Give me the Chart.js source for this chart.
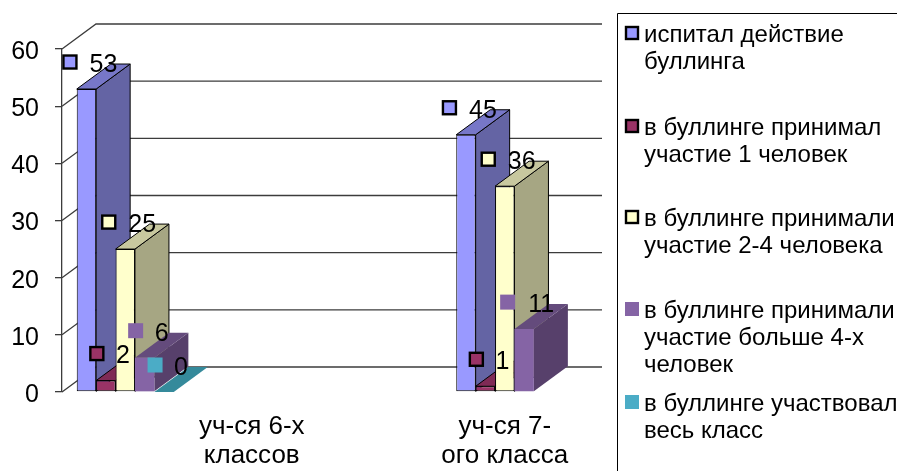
<!DOCTYPE html>
<html lang="ru">
<head>
<meta charset="utf-8">
<title>Буллинг</title>
<script src="https://cdn.jsdelivr.net/npm/chart.js@4"></script>
<style>html,body{margin:0;padding:0;background:#fff}canvas{display:block}</style>
</head>
<body>
<canvas id="c" width="897" height="471"></canvas>
<script>
const categories = ['', ['уч-ся 6-х', 'классов'], '', ['уч-ся 7-', 'ого класса']];
const seriesNames = [
  ['испитал действие', 'буллинга'],
  ['в буллинге принимал', 'участие 1 человек'],
  ['в буллинге принимали', 'участие 2-4 человека'],
  ['в буллинге принимали', 'участие больше 4-х', 'человек'],
  ['в буллинге участвовал', 'весь класс']
];
const испитал = [53, null, null, 45];
const один = [2, null, null, 1];
const дваЧетыре = [25, null, null, 36];
const большеЧетырех = [6, null, null, 11];
const весьКласс = [0, null, null, null];
const seriesValues = [испитал, один, дваЧетыре, большеЧетырех, весьКласс];
const yTicks = [0, 10, 20, 30, 40, 50, 60];

const frontColors = ['#9999FF', '#993366', '#FFFFCC', '#8564A5', '#4BACC6'];
const sideColors = ['#6464A4', '#732650', '#A6A683', '#57406B', '#358A9B'];
const topColors = ['#7777C8', '#7F2A55', '#C8C89F', '#644B7C', '#358A9B'];
const outlined = [true, true, true, false, false];
const legendY = [35, 128, 219, 311, 404];

const DX = 34, DY = 25;
const FAMILY = '"Liberation Sans", Arial, sans-serif';
const FONT = '25px ' + FAMILY;
const LEGEND_FONT = '24px ' + FAMILY;
const GRID = '#3c3c3c';

function marker(ctx, cx, cy, i, size) {
  ctx.save();
  ctx.fillStyle = frontColors[i];
  if (outlined[i]) {
    ctx.fillRect(cx - size / 2, cy - size / 2, size, size);
    ctx.strokeStyle = '#000';
    ctx.lineWidth = 2.4;
    ctx.strokeRect(cx - size / 2, cy - size / 2, size, size);
  } else {
    ctx.fillRect(cx - size / 2 - 1, cy - size / 2 - 1, size + 2, size + 2);
  }
  ctx.restore();
}

const wallPlugin = {
  id: 'wall',
  beforeDatasetsDraw(chart) {
    const { ctx, chartArea: a, scales: { y } } = chart;
    ctx.save();
    ctx.strokeStyle = GRID;
    ctx.lineWidth = 1.3;
    yTicks.forEach(v => {
      const p = y.getPixelForValue(v);
      ctx.beginPath();
      ctx.moveTo(a.left, p);
      ctx.lineTo(a.left + DX, p - DY);
      ctx.lineTo(a.right + DX, p - DY);
      ctx.stroke();
    });
    ctx.restore();
  }
};

// Paints the datasets left to right, each bar's side and top first, then the library's own front face.
const depthPlugin = {
  id: 'depth',
  beforeDatasetsDraw(chart) {
    const { ctx } = chart;
    seriesValues.forEach((vals, i) => {
      const meta = chart.getDatasetMeta(i);
      meta.data.forEach((el, k) => {
        if (vals[k] === null) return;
        const { x, y, base, width } = el.getProps(['x', 'y', 'base', 'width'], true);
        const l = x - width / 2, r = x + width / 2;
        ctx.save();
        ctx.lineWidth = 1;
        ctx.strokeStyle = '#000';
        ctx.fillStyle = sideColors[i];
        ctx.beginPath();
        ctx.moveTo(r, y); ctx.lineTo(r + DX, y - DY); ctx.lineTo(r + DX, base - DY); ctx.lineTo(r, base);
        ctx.closePath(); ctx.fill();
        if (outlined[i]) ctx.stroke();
        ctx.fillStyle = topColors[i];
        ctx.beginPath();
        ctx.moveTo(l, y); ctx.lineTo(r, y); ctx.lineTo(r + DX, y - DY); ctx.lineTo(l + DX, y - DY);
        ctx.closePath(); ctx.fill();
        if (outlined[i]) ctx.stroke();
        ctx.restore();
      });
      meta.controller.draw();
    });
    return false;
  }
};

const labelPlugin = {
  id: 'keys',
  afterDraw(chart) {
    const { ctx } = chart;
    ctx.save();
    ctx.font = FONT;
    ctx.textBaseline = 'middle';
    ctx.textAlign = 'center';
    seriesValues.forEach((vals, i) => {
      const meta = chart.getDatasetMeta(i);
      vals.forEach((v, k) => {
        if (v === null) return;
        const { x, y } = meta.data[k].getProps(['x', 'y'], true);
        const two = String(v).length > 1;
        marker(ctx, x + (two ? -16.5 : -9), y - 27, i, 13);
        ctx.fillStyle = '#000';
        ctx.fillText(String(v), x + 17, y - 24);
      });
    });
    ctx.restore();
  }
};

const legendPlugin = {
  id: 'sideLegend',
  afterDraw(chart) {
    const { ctx, width, height } = chart;
    ctx.save();
    ctx.strokeStyle = '#000';
    ctx.lineWidth = 1;
    ctx.beginPath();
    ctx.moveTo(617.5, height); ctx.lineTo(617.5, 13.5); ctx.lineTo(width, 13.5);
    ctx.stroke();
    ctx.font = LEGEND_FONT;
    ctx.textBaseline = 'middle';
    ctx.textAlign = 'left';
    seriesNames.forEach((lines, i) => {
      marker(ctx, 632, legendY[i] - 2, i, 12);
      ctx.fillStyle = '#000';
      lines.forEach((t, n) => ctx.fillText(t, 644, legendY[i] + n * 27.3));
    });
    ctx.restore();
  }
};

new Chart(document.getElementById('c'), {
  type: 'bar',
  data: {
    labels: categories,
    datasets: seriesValues.map((data, i) => ({
      label: seriesNames[i].join(' '),
      data,
      backgroundColor: frontColors[i],
      borderColor: '#000',
      borderWidth: outlined[i] ? 1 : 0,
      borderSkipped: false,
      barPercentage: 1,
      categoryPercentage: 0.767
    }))
  },
  options: {
    responsive: false,
    animation: false,
    layout: { padding: { top: 49, right: 329, left: 0, bottom: 0 } },
    plugins: { legend: { display: false }, tooltip: { enabled: false }, title: { display: false } },
    scales: {
      x: {
        grid: { display: false, drawTicks: false },
        border: { display: false },
        ticks: {
          autoSkip: false, maxRotation: 0, minRotation: 0, padding: 20, color: '#000',
          font: { family: FAMILY, size: 26, lineHeight: 1.12 }
        },
        afterFit(s) { s.height = 79; }
      },
      y: {
        min: 0, max: 60,
        grid: { drawOnChartArea: false, drawTicks: true, tickLength: 7, color: GRID, lineWidth: 1.3 },
        border: { display: true, color: GRID, width: 1.3 },
        ticks: {
          stepSize: 10, padding: 16, color: '#000', labelOffset: 3,
          font: { family: FAMILY, size: 25 }
        },
        afterFit(s) { s.width = 62; }
      }
    }
  },
  plugins: [wallPlugin, depthPlugin, labelPlugin, legendPlugin]
});
</script>
</body>
</html>
